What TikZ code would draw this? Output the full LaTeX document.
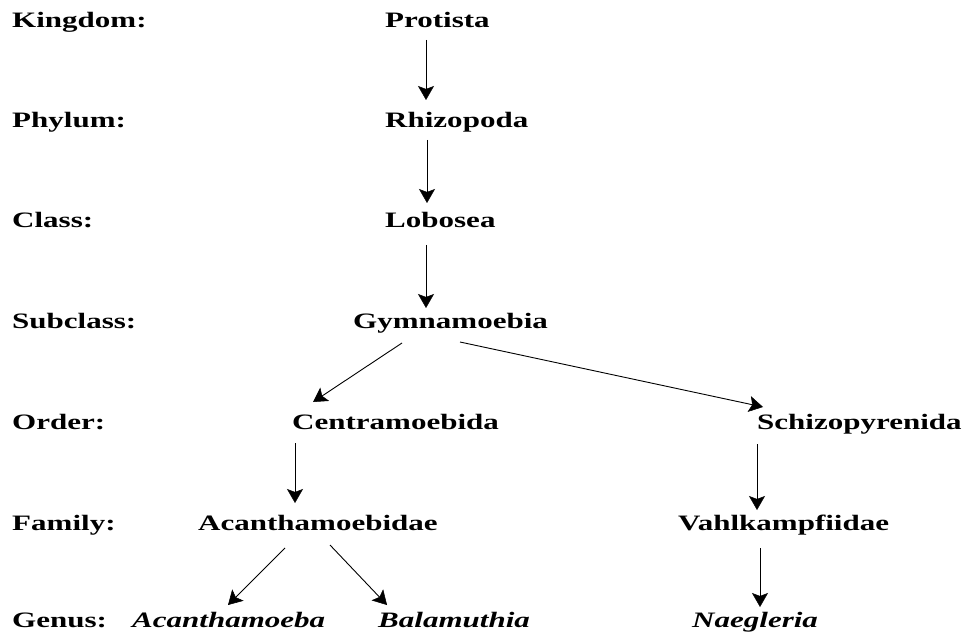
\documentclass[tikz,border=0pt]{standalone}
\usepackage{fontspec}
\setmainfont{Liberation Serif}[FakeStretch=1.41]
\usepackage{tikz}
\usetikzlibrary{arrows.meta}

\begin{document}
\begin{tikzpicture}[x=1pt, y=-1pt,
  every node/.style = {inner sep=0pt, anchor=base west,
    font=\fontsize{22}{24}\selectfont\bfseries},
  genus/.style = {font=\fontsize{22}{24}\selectfont\bfseries\itshape},
  arr/.style = {line width=0.9pt, -{Stealth[length=14pt, width=16pt, inset=3pt, line width=0.5pt]}}]
  \useasboundingbox (0,0) rectangle (964,636);
  \node (kingdom) at (12,28) {Kingdom:};
  \node (phylum) at (12,128) {Phylum:};
  \node (class) at (12,228) {Class:};
  \node (subclass) at (12,329) {Subclass:};
  \node (order) at (12,429) {Order:};
  \node (family) at (12,530) {Family:};
  \node (genusrank) at (12,627) {Genus:};

  \node (protista) at (385,28) {Protista};
  \node (rhizopoda) at (385,128) {Rhizopoda};
  \node (lobosea) at (385,228) {Lobosea};
  \node (gymnamoebia) at (353,329) {Gymnamoebia};
  \node (centramoebida) at (292,429) {Centramoebida};
  \node (schizopyrenida) at (757,429) {Schizopyrenida};
  \node (acanthamoebidae) at (198,530) {Acanthamoebidae};
  \node (vahlkampfiidae) at (678,530) {Vahlkampfiidae};
  \node[genus] (acanthamoeba) at (132,627) {Acanthamoeba};
  \node[genus] (balamuthia) at (378,627) {Balamuthia};
  \node[genus] (naegleria) at (692,627) {Naegleria};

  \draw[arr] ([shift={(41,12)}]protista.base west) -- ([shift={(41,-28)}]rhizopoda.base west);
  \draw[arr] ([shift={(42,12)}]rhizopoda.base west) -- ([shift={(42,-25)}]lobosea.base west);
  \draw[arr] ([shift={(41,17)}]lobosea.base west) -- ([shift={(73,-21)}]gymnamoebia.base west);
  \draw[arr] ([shift={(49,14)}]gymnamoebia.base west) -- ([shift={(21,-27)}]centramoebida.base west);
  \draw[arr] ([shift={(107,13)}]gymnamoebia.base west) -- ([shift={(6,-22)}]schizopyrenida.base west);
  \draw[arr] ([shift={(3,14)}]centramoebida.base west) -- ([shift={(3,-27)}]acanthamoebidae.base west -| centramoebida.base west);
  \draw[arr] ([shift={(87,18)}]acanthamoebidae.base west) -- ([shift={(96,-22)}]acanthamoeba.base west);
  \draw[arr] ([shift={(132,15)}]acanthamoebidae.base west) -- ([shift={(9,-22)}]balamuthia.base west);
  \draw[arr] ([shift={(0,15)}]schizopyrenida.base west) -- ([shift={(79,-20)}]vahlkampfiidae.base west);
  \draw[arr] ([shift={(82,18)}]vahlkampfiidae.base west) -- ([shift={(68,-20)}]naegleria.base west);
\end{tikzpicture}
\end{document}
